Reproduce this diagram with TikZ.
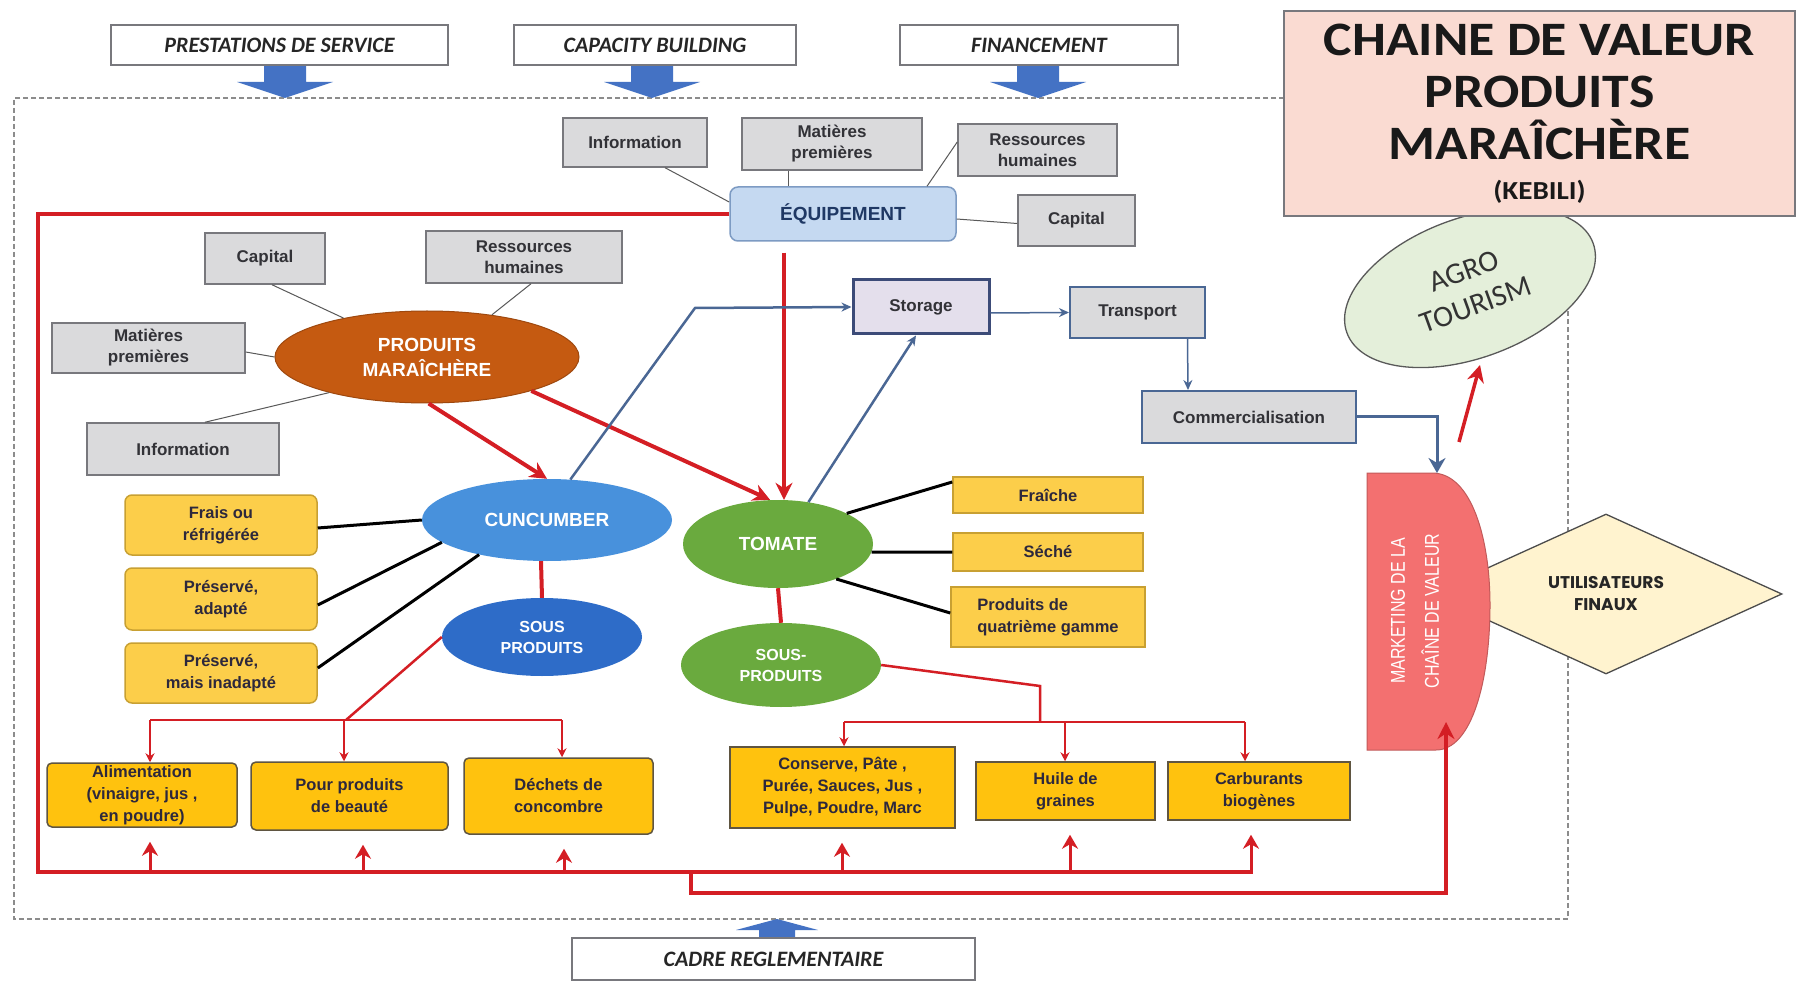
\documentclass[tikz,border=0pt]{standalone}
\usepackage{fontspec}
\setmainfont{Liberation Sans}
\newfontfamily\calib{Carlito}
\newfontfamily\calibw[FakeStretch=1.12]{Carlito}
\newfontfamily\narrowf[FakeStretch=0.8]{Liberation Sans}
\newfontfamily\popp{Poppins}
\usetikzlibrary{arrows.meta,shapes.geometric,calc}
\definecolor{redc}{RGB}{212,30,36}
\definecolor{bluec}{RGB}{74,103,148}
\definecolor{barr}{RGB}{68,114,196}
\definecolor{gfl}{RGB}{218,218,220}
\definecolor{gbd}{RGB}{120,120,125}
\definecolor{gtx}{RGB}{50,50,55}
\definecolor{yfl}{RGB}{252,206,74}
\definecolor{ybd}{RGB}{200,160,50}
\definecolor{bfl}{RGB}{255,194,14}
\definecolor{bbd}{RGB}{95,85,65}
\definecolor{ytx}{RGB}{45,40,60}
\definecolor{prodc}{RGB}{197,90,17}
\definecolor{cunc}{RGB}{72,145,220}
\definecolor{sbc}{RGB}{46,108,200}
\definecolor{tomc}{RGB}{106,170,62}
\definecolor{eqf}{RGB}{197,217,241}
\definecolor{eqd}{RGB}{125,155,195}
\definecolor{stf}{RGB}{228,223,236}
\definecolor{std}{RGB}{60,75,120}
\definecolor{ttf}{RGB}{250,219,210}
\definecolor{agf}{RGB}{228,239,218}
\definecolor{mkf}{RGB}{243,112,112}
\definecolor{dfl}{RGB}{255,243,207}
\definecolor{frm}{RGB}{140,140,140}
\begin{document}
\begin{tikzpicture}[x=1pt,y=-1pt,
  sz/.style 2 args={minimum width=#1pt,minimum height=#2pt},
  gbox/.style={draw=gbd,fill=gfl,line width=1.5pt,inner sep=0pt,align=center,text=gtx,font=\bfseries\fontsize{17}{21}\selectfont},
  topbox/.style={draw=gbd,fill=white,line width=1.5pt,inner sep=0pt,text=black!85,font=\calib\bfseries\itshape\fontsize{22}{26}\selectfont},
  ylbox/.style={draw=ybd,fill=yfl,line width=1.5pt,rounded corners=7pt,inner sep=0pt,align=center,text=ytx,font=\bfseries\fontsize{16.5}{22}\selectfont},
  yrbox/.style={draw=ybd,fill=yfl,line width=1.5pt,inner sep=0pt,align=center,text=ytx,font=\bfseries\fontsize{16.5}{22}\selectfont},
  ybbox/.style={draw=bbd,fill=bfl,line width=1.5pt,inner sep=0pt,align=center,text=ytx,font=\bfseries\fontsize{16.5}{22}\selectfont},
  ell/.style={ellipse,inner sep=0pt,align=center,text=white,font=\bfseries\fontsize{19}{25}\selectfont},
  redl/.style={draw=redc,line width=4pt},
  redarr/.style={draw=redc,line width=4pt,-{Stealth[length=17pt,width=17pt]}},
  redup/.style={draw=redc,line width=3pt,-{Stealth[length=14pt,width=16pt]}},
  redbr/.style={draw=redc,line width=2.5pt},
  redbra/.style={draw=redc,line width=1.5pt,-{Stealth[length=9pt,width=9pt]}},
  thinl/.style={draw=gray!70!black,line width=1pt},
  blk/.style={draw=black,line width=3pt},
  bl/.style={draw=bluec,line width=2.5pt,-{Stealth[length=10pt,width=9pt]}}
]
\useasboundingbox (0,0) rectangle (1802,981);
\fill[white] (0,0) rectangle (1802,981);

% dashed frame
\draw[draw=frm,line width=1.3pt,dash pattern=on 5pt off 3pt] (1284,98) -- (14,98) -- (14,919) -- (1568,919) -- (1568,216);

% blue block arrows
\foreach \cx in {285,652,1038}{
  \fill[barr] ({\cx-21},65) -- ({\cx+21},65) -- ({\cx+21},82) -- ({\cx+48},82) -- (\cx,98) -- ({\cx-48},82) -- ({\cx-21},82) -- cycle;
}
\fill[barr] (759,940) -- (795,940) -- (795,930) -- (818,930) -- (777,919) -- (736,930) -- (759,930) -- cycle;

% top boxes
\node[topbox,sz={337}{40}] (ps) at (279.5,45) {PRESTATIONS DE SERVICE};
\node[topbox,sz={282}{40}] (cb) at (655,45) {CAPACITY BUILDING};
\node[topbox,sz={278}{40}] (fin) at (1039,45) {FINANCEMENT};
\node[topbox,sz={403}{42}] (cadre) at (773.5,959) {CADRE REGLEMENTAIRE};

% agro tourism + title
\node[ellipse,draw=gray!70!black,fill=agf,line width=1.3pt,minimum width=262pt,minimum height=140pt,rotate=20,inner sep=0pt,align=center,text=black!80,font=\calib\fontsize{30}{36}\selectfont] (agro) at (1470,288) {AGRO\\TOURISM};
\node[draw=gbd,fill=ttf,line width=1.5pt,sz={511}{205},inner sep=0pt,align=center,text=black!90,font=\calibw\bfseries\fontsize{48}{52}\selectfont] (title) at (1539.5,113.5) {CHAINE DE VALEUR\\PRODUITS\\MARAÎCHÈRE\\[-12pt]{\fontsize{26}{30}\selectfont (KEBILI)}};

% diamond and marketing
\node[diamond,draw=black!70,fill=dfl,line width=1.3pt,minimum width=352pt,minimum height=160pt,inner sep=0pt,align=center,text=black!85,font=\popp\bfseries\fontsize{17}{22}\selectfont] (util) at (1606,594) {UTILISATEURS\\FINAUX};
\path[draw=mkf!80!black,fill=mkf,line width=1pt] (1367,473) -- (1432,473) .. controls (1472,473) and (1490,540) .. (1490,605) .. controls (1490,680) and (1472,750) .. (1436,750) -- (1367,750) -- cycle;
\node[rotate=90,align=center,text=white,font=\narrowf\fontsize{20}{34}\selectfont] (mkt) at (1415,611) {MARKETING DE LA\\CHAÎNE DE VALEUR};
\coordinate (MT) at (1437,473);
\coordinate (MIN) at (1446,722);

% equipement cluster
\node[gbox,sz={144}{49}] (info1) at (635,142.5) {Information};
\node[gbox,sz={180}{52}] (mat1) at (832,144) {Matières\\premières};
\node[gbox,sz={159}{52}] (res1) at (1037.5,150) {Ressources\\humaines};
\node[draw=eqd,fill=eqf,line width=1.5pt,rounded corners=8pt,sz={226}{54},inner sep=0pt,text={rgb,255:red,31;green,56;blue,100},font=\bfseries\fontsize{19}{23}\selectfont] (equip) at (843,214) {ÉQUIPEMENT};
\node[gbox,sz={117}{51}] (cap1) at (1076.5,220.5) {Capital};

% produits cluster
\node[gbox,sz={120}{51}] (cap2) at (265,258.5) {Capital};
\node[gbox,sz={196}{52}] (res2) at (524,257) {Ressources\\humaines};
\node[gbox,sz={193}{50}] (mat2) at (148.5,348) {Matières\\premières};
\node[gbox,sz={192}{52}] (info2) at (183,449) {Information};
\node[ell,fill=prodc,draw=prodc!80!black,line width=1pt,sz={304}{92}] (prod) at (427,357) {PRODUITS\\MARAÎCHÈRE};

% ellipses
\node[ell,fill=cunc,sz={250}{82}] (cun) at (547,520) {CUNCUMBER};
\node[ell,fill=sbc,sz={200}{78},font=\bfseries\fontsize{16}{21}\selectfont] (sousB) at (542,637) {SOUS\\PRODUITS};
\node[ell,fill=tomc,sz={190}{88}] (tom) at (778,544) {TOMATE};
\node[ell,fill=tomc,sz={200}{84},font=\bfseries\fontsize{16}{21}\selectfont] (sousG) at (781,665) {SOUS-\\PRODUITS};

% yellow boxes left
\node[ylbox,sz={192}{60}] (y1) at (221,525) {Frais ou\\réfrigérée};
\node[ylbox,sz={192}{62}] (y2) at (221,599) {Préservé,\\adapté};
\node[ylbox,sz={192}{60}] (y3) at (221,673) {Préservé,\\mais inadapté};

% yellow boxes right
\node[yrbox,sz={190}{36}] (f1) at (1048,495) {Fraîche};
\node[yrbox,sz={190}{38}] (f2) at (1048,552) {Séché};
\node[yrbox,sz={194}{60},align=left] (f3) at (1048,617) {Produits de\\quatrième gamme};

% bottom boxes
\node[ybbox,rounded corners=5pt,sz={190}{64}] (b1) at (142,795) {Alimentation\\(vinaigre, jus ,\\en poudre)};
\node[ybbox,rounded corners=5pt,sz={197}{68}] (b2) at (349.5,796) {Pour produits\\de beauté};
\node[ybbox,rounded corners=5pt,sz={189}{76}] (b3) at (558.5,796) {Déchets de\\concombre};
\node[ybbox,sz={225}{81}] (b4) at (842.5,787.5) {Conserve, Pâte ,\\Purée, Sauces, Jus ,\\Pulpe, Poudre, Marc};
\node[ybbox,sz={179}{58}] (b5) at (1065.5,791) {Huile de\\graines};
\node[ybbox,sz={182}{58}] (b6) at (1259,791) {Carburants\\biogènes};

% logistics
\node[draw=std,fill=stf,line width=3pt,sz={136}{54},inner sep=0pt,text=gtx,font=\bfseries\fontsize{17}{21}\selectfont] (storage) at (921,307) {Storage};
\node[gbox,draw=bluec,line width=2pt,sz={135}{51}] (transport) at (1137.5,312.5) {Transport};
\node[gbox,draw=bluec,line width=2pt,sz={214}{52}] (comm) at (1249,417) {Commercialisation};

% thin grey connectors
\draw[thinl] (info1.-40) -- (equip.174);
\draw[thinl] ([xshift=-44pt]mat1.south) -- ([xshift=-55pt]equip.north);
\draw[thinl] ([yshift=8pt]res1.west) -- ([xshift=84pt]equip.north);
\draw[thinl] ([yshift=-3pt]cap1.west) -- ([yshift=-5pt]equip.east);
\draw[thinl] ([xshift=7pt]cap2.south) -- (prod.155);
\draw[thinl] ([xshift=7pt]res2.south) -- (prod.33);
\draw[thinl] ([yshift=-4pt]mat2.east) -- (prod.west);
\draw[thinl] ([xshift=22pt]info2.north) -- (prod.200);

% black connectors
\draw[blk] ([yshift=-3pt]y1.east) -- (cun.west);
\draw[blk] ([yshift=-6pt]y2.east) -- (cun.192);
\draw[blk] ([yshift=5pt]y3.east) -- (cun.207);
\draw[blk] (tom.24) -- ([yshift=13pt]f1.west);
\draw[blk] (tom.-5) -- (f2.west);
\draw[blk] (tom.-31) -- ([yshift=4pt]f3.west);

% red flows
\draw[redarr] (prod.-88) -- (cun.north);
\draw[redarr] (prod.-18) -- ([xshift=-8pt]tom.north);
\draw[redarr] ([xshift=-59pt,yshift=-11pt]equip.south) -- ([xshift=6pt]tom.north);
\coordinate (LT) at (38,214);
\coordinate (LB) at (38,872);
\coordinate (RB) at (1253,872);
\draw[redl] (equip.west) -- (LT) -- (LB) -- (RB);
\foreach \n/\xx in {b1/150,b2/363,b3/564,b4/842,b5/1070,b6/1251}{
  \coordinate (u\n) at (\xx,872);
  \draw[redup,shorten >=14pt] (u\n) -- (u\n |- \n.south);
}
\coordinate (J) at (691,872);
\draw[redarr] (J) -- (691,893) -- (1446,893) -- (MIN);

\draw[redl] ([xshift=-6pt]cun.south) -- (sousB.north);
\draw[redbr] (sousB.west) -- (346,720);
\draw[redbr] (150,720) -- (562,720);
\foreach \n/\xx in {b1/150,b2/344,b3/562}{
  \coordinate (d\n) at (\xx,720);
  \draw[redbra] (d\n) -- (d\n |- \n.north);
}
\draw[redl] (tom.south) -- (sousG.north);
\draw[redbr] (sousG.east) -- (1040,686) -- (1040,722);
\draw[redbr] (844,722) -- (1245,722);
\foreach \n/\xx in {b4/844,b5/1065,b6/1245}{
  \coordinate (d\n) at (\xx,722);
  \draw[redbra] (d\n) -- (d\n |- \n.north);
}
\coordinate (A0) at (1459,442);
\coordinate (A1) at (1480,365);
\draw[redarr,line width=3.5pt] (A0) -- (A1);

% blue flows
\draw[bl] (cun.60) -- (695,308) -- (storage.west);
\draw[bl] (tom.54) -- ([xshift=-5pt]storage.south);
\draw[bl,line width=1.5pt] ([yshift=-6pt]storage.east) -- (transport.west);
\draw[bl,line width=1.5pt] ([xshift=50pt]transport.south) -- ([xshift=-61pt]comm.north);
\draw[draw=bluec,line width=3pt,-{Stealth[length=15pt,width=17pt]}] (comm.east) -| (MT);
\end{tikzpicture}
\end{document}
